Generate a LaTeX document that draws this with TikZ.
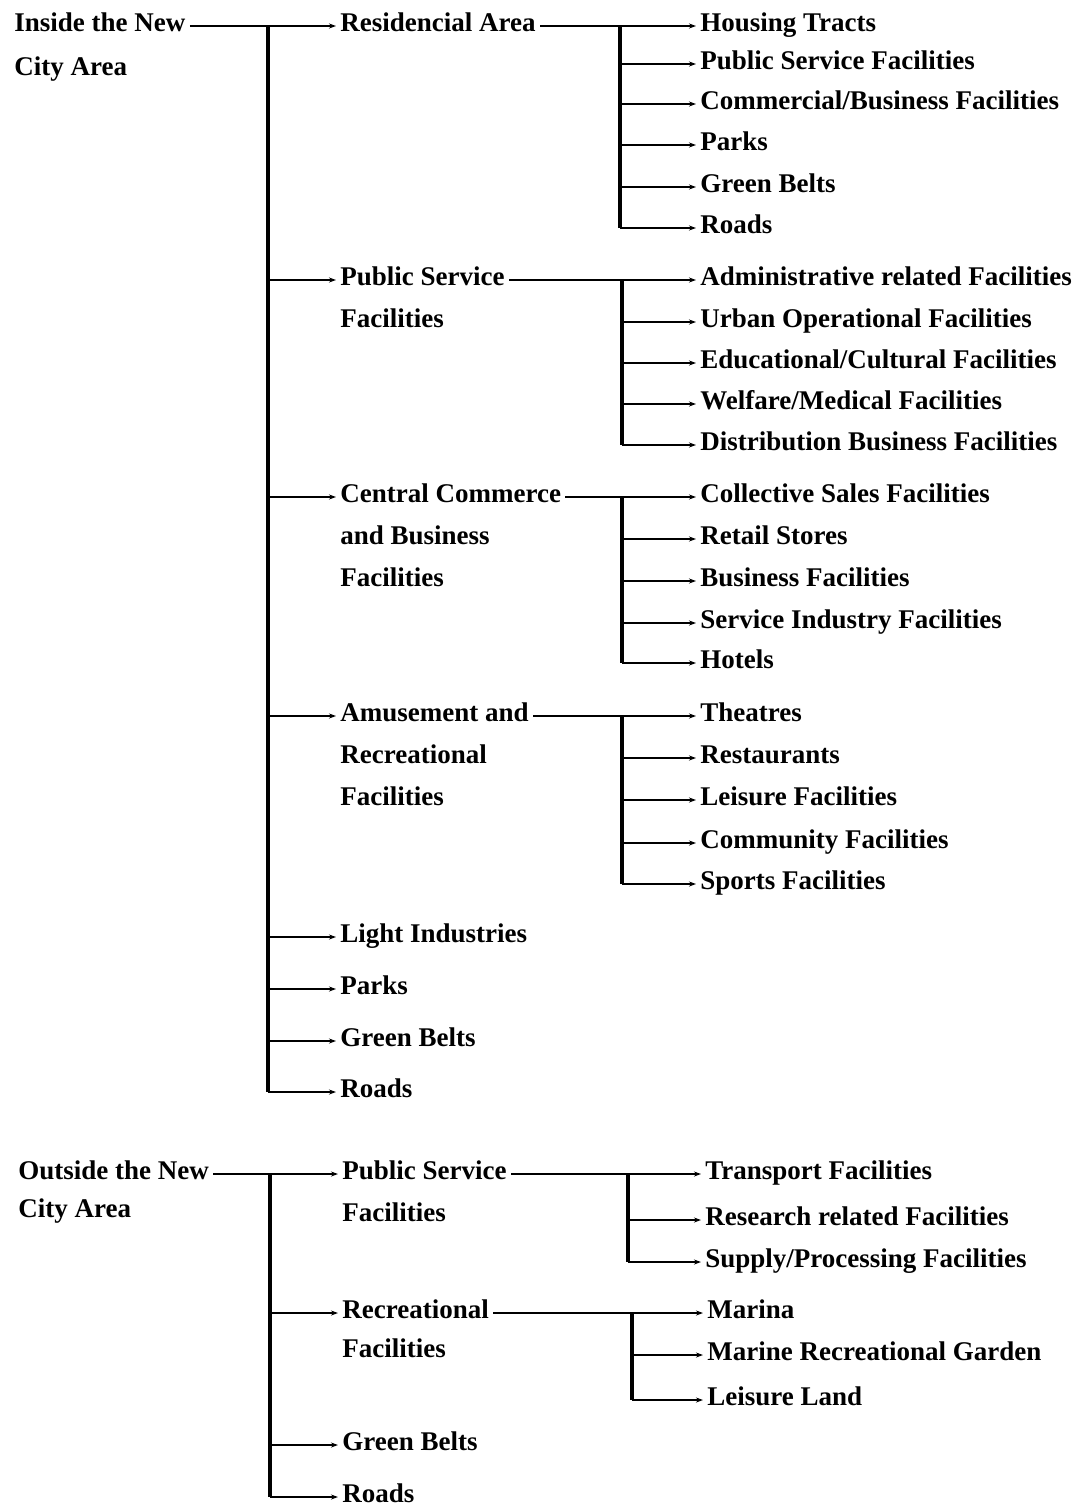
\documentclass[tikz,border=0pt]{standalone}
\usepackage{fontspec}
\setmainfont{Liberation Serif}
\usepackage{tikz}
\usetikzlibrary{arrows.meta,positioning}

\tikzset{
  lbl/.style={anchor=west, inner sep=2pt, font=\fontsize{13.5}{16}\selectfont\bfseries,
    text height=1.6ex, text depth=.3ex},
  link/.style={line width=0.7pt, -{Stealth[length=3.5pt,width=2.5pt]}},
  bar/.style={line width=1.8pt},
}

\begin{document}
\begin{tikzpicture}[x=0.5pt,y=-0.5pt]
\useasboundingbox (0,0) rectangle (1090,1510);

%% inside the new city area
\node[lbl] (in1) at (10,26) {Inside the New};
\node[lbl] (in2) at (10,70) {City Area};
\coordinate (inbar) at (268,26);

\node[lbl] (res) at (336,26) {Residencial Area};
\node[lbl] (ps1) at (336,280) {Public Service};
\node[lbl] (ps2) at (336,322) {Facilities};
\node[lbl] (cc1) at (336,497) {Central Commerce};
\node[lbl] (cc2) at (336,539) {and Business};
\node[lbl] (cc3) at (336,581) {Facilities};
\node[lbl] (am1) at (336,716) {Amusement and};
\node[lbl] (am2) at (336,758) {Recreational};
\node[lbl] (am3) at (336,800) {Facilities};
\node[lbl] (li) at (336,937) {Light Industries};
\node[lbl] (pk) at (336,989) {Parks};
\node[lbl] (gb) at (336,1041) {Green Belts};
\node[lbl] (rd) at (336,1092) {Roads};

\draw[link] (in1.east) -- (res.west);
\draw[bar] (inbar) -- (inbar |- rd.west);
\foreach \n in {ps1,cc1,am1,li,pk,gb,rd}
{
    \draw[link] (inbar |- \n.west) -- (\n.west);
}

% residencial area
\coordinate (rbar) at (620,26);
\foreach \i/\y/\t in {
1/26/{Housing Tracts},
2/64/{Public Service Facilities},
3/104/{Commercial/Business Facilities},
4/145/{Parks},
5/187/{Green Belts},
6/228/{Roads}}
{
    \node[lbl] (r\i) at (696,\y) {\t};
}
\draw[link] (res.east) -- (r1.west);
\draw[bar] (rbar) -- (rbar |- r6.west);
\foreach \i in {2,...,6}
{
    \draw[link] (rbar |- r\i.west) -- (r\i.west);
}

% public service facilities
\coordinate (pbar) at (622,280);
\foreach \i/\y/\t in {
1/280/{Administrative related Facilities},
2/322/{Urban Operational Facilities},
3/363/{Educational/Cultural Facilities},
4/404/{Welfare/Medical Facilities},
5/445/{Distribution Business Facilities}}
{
    \node[lbl] (p\i) at (696,\y) {\t};
}
\draw[link] (ps1.east) -- (p1.west);
\draw[bar] (pbar) -- (pbar |- p5.west);
\foreach \i in {2,...,5}
{
    \draw[link] (pbar |- p\i.west) -- (p\i.west);
}

% central commerce
\coordinate (cbar) at (622,497);
\foreach \i/\y/\t in {
1/497/{Collective Sales Facilities},
2/539/{Retail Stores},
3/581/{Business Facilities},
4/623/{Service Industry Facilities},
5/663/{Hotels}}
{
    \node[lbl] (c\i) at (696,\y) {\t};
}
\draw[link] (cc1.east) -- (c1.west);
\draw[bar] (cbar) -- (cbar |- c5.west);
\foreach \i in {2,...,5}
{
    \draw[link] (cbar |- c\i.west) -- (c\i.west);
}

% amusement
\coordinate (abar) at (622,716);
\foreach \i/\y/\t in {
1/716/{Theatres},
2/758/{Restaurants},
3/800/{Leisure Facilities},
4/843/{Community Facilities},
5/884/{Sports Facilities}}
{
    \node[lbl] (a\i) at (696,\y) {\t};
}
\draw[link] (am1.east) -- (a1.west);
\draw[bar] (abar) -- (abar |- a5.west);
\foreach \i in {2,...,5}
{
    \draw[link] (abar |- a\i.west) -- (a\i.west);
}

%% outside the new city area
\node[lbl] (out1) at (14,1174) {Outside the New};
\node[lbl] (out2) at (14,1212) {City Area};
\coordinate (obar) at (270,1174);

\node[lbl] (op1) at (338,1174) {Public Service};
\node[lbl] (op2) at (338,1216) {Facilities};
\node[lbl] (or1) at (338,1313) {Recreational};
\node[lbl] (or2) at (338,1352) {Facilities};
\node[lbl] (ogb) at (338,1445) {Green Belts};
\node[lbl] (ord) at (338,1497) {Roads};

\draw[link] (out1.east) -- (op1.west);
\draw[bar] (obar) -- (obar |- ord.west);
\foreach \n in {or1,ogb,ord}
{
    \draw[link] (obar |- \n.west) -- (\n.west);
}

% outside public service
\coordinate (qbar) at (628,1174);
\foreach \i/\y/\t in {
1/1174/{Transport Facilities},
2/1220/{Research related Facilities},
3/1262/{Supply/Processing Facilities}}
{
    \node[lbl] (q\i) at (701,\y) {\t};
}
\draw[link] (op1.east) -- (q1.west);
\draw[bar] (qbar) -- (qbar |- q3.west);
\foreach \i in {2,3}
{
    \draw[link] (qbar |- q\i.west) -- (q\i.west);
}

% outside recreational
\coordinate (mbar) at (632,1313);
\foreach \i/\y/\t in {
1/1313/{Marina},
2/1355/{Marine Recreational Garden},
3/1400/{Leisure Land}}
{
    \node[lbl] (m\i) at (703,\y) {\t};
}
\draw[link] (or1.east) -- (m1.west);
\draw[bar] (mbar) -- (mbar |- m3.west);
\foreach \i in {2,3}
{
    \draw[link] (mbar |- m\i.west) -- (m\i.west);
}

\end{tikzpicture}
\end{document}
